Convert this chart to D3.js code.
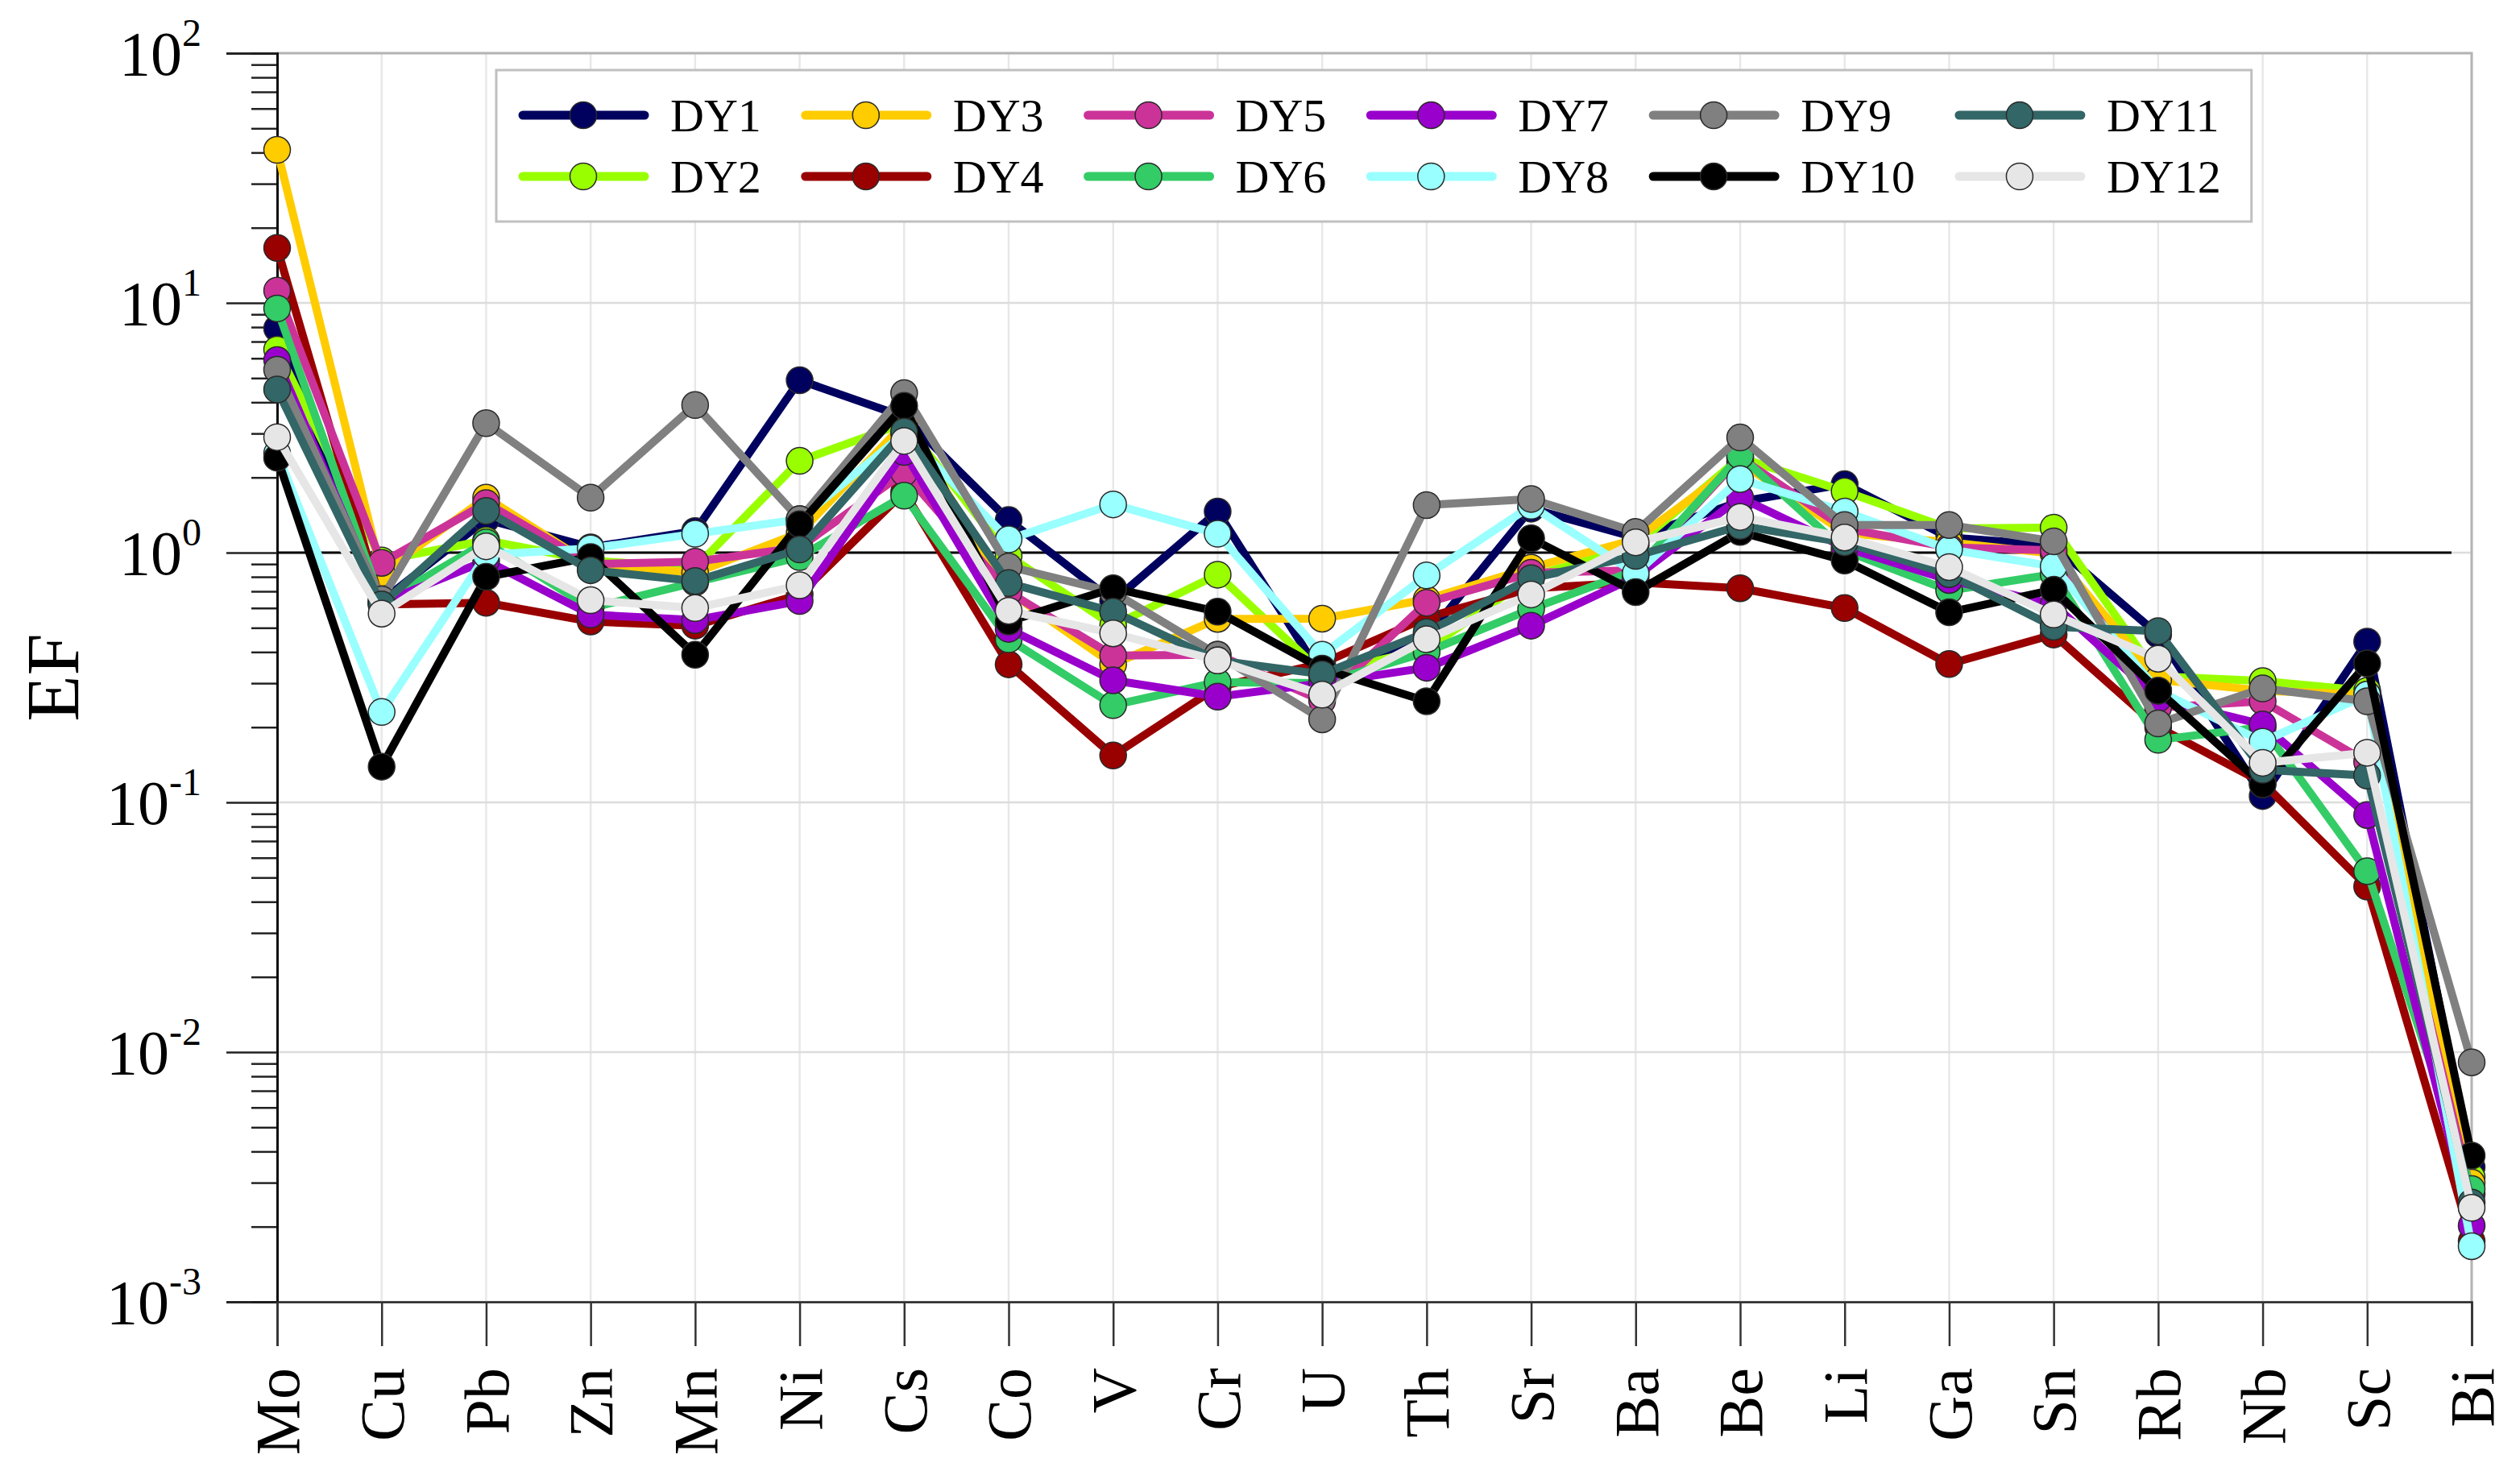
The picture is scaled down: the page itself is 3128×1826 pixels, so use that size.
<!DOCTYPE html>
<html>
<head>
<meta charset="utf-8">
<script src="https://cdn.jsdelivr.net/npm/d3@7"></script>
<style>
  body { margin: 0; background: #fff; }
  text { font-family: "Liberation Serif", "Times New Roman", serif; }
</style>
</head>
<body>
<div id="chart"></div>
<script>
var elements = ['Mo','Cu','Pb','Zn','Mn','Ni','Cs','Co','V','Cr','U','Th','Sr','Ba','Be','Li','Ga','Sn','Rb','Nb','Sc','Bi'];

var dy1  = [7.9, 0.64, 1.36, 1.05, 1.22, 4.9, 3.5, 1.35, 0.64, 1.46, 0.32, 0.46, 1.5, 1.15, 1.6, 1.88, 1.15, 1.07, 0.47, 0.106, 0.44, 0.00346];
var dy2  = [6.5, 0.93, 1.12, 0.93, 0.87, 2.33, 3.3, 0.97, 0.51, 0.816, 0.33, 0.41, 0.8, 1.07, 2.4, 1.76, 1.25, 1.26, 0.32, 0.306, 0.28, 0.00316];
var dy3  = [41, 0.83, 1.66, 0.9, 0.83, 1.2, 3.28, 0.7, 0.357, 0.543, 0.544, 0.65, 0.87, 1.13, 2.3, 1.2, 1.1, 0.99, 0.31, 0.28, 0.27, 0.003];
var dy4  = [16.6, 0.62, 0.63, 0.53, 0.51, 0.68, 1.75, 0.357, 0.154, 0.29, 0.36, 0.55, 0.72, 0.76, 0.72, 0.6, 0.358, 0.47, 0.2, 0.12, 0.046, 0.00175];
var dy5  = [11.2, 0.91, 1.58, 0.9, 0.92, 1.05, 2.09, 0.695, 0.387, 0.39, 0.255, 0.63, 0.83, 0.85, 2.4, 1.25, 1.05, 1.02, 0.24, 0.254, 0.145, 0.0027];
var dy6  = [9.5, 0.63, 1.1, 0.6, 0.76, 0.96, 1.69, 0.45, 0.245, 0.303, 0.3, 0.4, 0.595, 0.85, 2.44, 1.02, 0.705, 0.82, 0.178, 0.2, 0.053, 0.00283];
var dy7  = [5.9, 0.63, 0.93, 0.565, 0.537, 0.64, 2.53, 0.495, 0.308, 0.265, 0.3, 0.346, 0.51, 0.8, 1.66, 1.05, 0.777, 0.62, 0.26, 0.205, 0.089, 0.00202];
var dy8  = [2.5, 0.23, 0.98, 1.04, 1.19, 1.36, 3.0, 1.13, 1.56, 1.19, 0.39, 0.81, 1.54, 0.826, 1.97, 1.46, 1.03, 0.88, 0.28, 0.175, 0.27, 0.00167];
var dy9  = [5.4, 0.65, 3.3, 1.66, 3.9, 1.36, 4.35, 0.88, 0.695, 0.39, 0.215, 1.55, 1.64, 1.21, 2.89, 1.29, 1.29, 1.11, 0.207, 0.286, 0.254, 0.0091];
var dy10 = [2.4, 0.139, 0.8, 0.96, 0.39, 1.3, 3.87, 0.53, 0.72, 0.58, 0.343, 0.254, 1.14, 0.695, 1.21, 0.93, 0.577, 0.71, 0.28, 0.118, 0.36, 0.00385];
var dy11 = [4.5, 0.62, 1.47, 0.85, 0.77, 1.03, 3.05, 0.755, 0.58, 0.37, 0.326, 0.48, 0.79, 0.97, 1.28, 1.1, 0.82, 0.505, 0.485, 0.135, 0.128, 0.0025];
var dy12 = [2.9, 0.57, 1.06, 0.645, 0.6, 0.74, 2.8, 0.585, 0.475, 0.37, 0.27, 0.45, 0.68, 1.1, 1.39, 1.15, 0.875, 0.565, 0.376, 0.144, 0.158, 0.00238];

var seriesNames = ['DY1','DY2','DY3','DY4','DY5','DY6','DY7','DY8','DY9','DY10','DY11','DY12'];
var seriesValues = [dy1, dy2, dy3, dy4, dy5, dy6, dy7, dy8, dy9, dy10, dy11, dy12];
var seriesColors = ['#00005f','#99ff00','#ffcc00','#990000','#cc3399','#33cc66','#9900cc','#99ffff','#808080','#000000','#336666','#e6e6e6'];

var yTicks = [1e-3, 1e-2, 1e-1, 1, 10, 100];
var yExp = ['-3','-2','-1','0','1','2'];

var chart_width = 3128;
var chart_height = 1826;
// plot box (note: "top" is taken by window.top)
var plotL = 344, plotR = 3068, plotT = 66, plotB = 1616;

var svg = d3.select('#chart')
    .append('svg')
    .attr('width', chart_width)
    .attr('height', chart_height);

svg.append('rect')
   .attr('width', chart_width)
   .attr('height', chart_height)
   .attr('fill', '#fff');

var x = d3.scalePoint().domain(elements).range([plotL, plotR]);
var y = d3.scaleLog().domain([1e-3, 1e2]).range([plotB, plotT]);

// grid
svg.append('g')
   .selectAll('line')
   .data(elements)
   .enter()
   .append('line')
   .attr('x1', function(d) { return x(d); })
   .attr('x2', function(d) { return x(d); })
   .attr('y1', plotT)
   .attr('y2', plotB)
   .attr('stroke', '#e8e8e8')
   .attr('stroke-width', 2.5);

svg.append('g')
   .selectAll('line')
   .data(yTicks)
   .enter()
   .append('line')
   .attr('x1', plotL)
   .attr('x2', plotR)
   .attr('y1', function(d) { return y(d); })
   .attr('y2', function(d) { return y(d); })
   .attr('stroke', '#dcdcdc')
   .attr('stroke-width', 2.5);

// frame top / right
svg.append('path')
   .attr('d', 'M' + plotL + ',' + plotT + 'H' + plotR + 'V' + plotB)
   .attr('fill', 'none')
   .attr('stroke', '#b4b4b4')
   .attr('stroke-width', 3);

// reference line at EF = 1
svg.append('line')
   .attr('x1', plotL)
   .attr('x2', plotR - 25)
   .attr('y1', y(1))
   .attr('y2', y(1))
   .attr('stroke', '#000')
   .attr('stroke-width', 3);

// left axis: minor then major ticks
var minorTicks = [];
yTicks.slice(0, -1).forEach(function(t) {
  for (var k = 2; k <= 9; k++) minorTicks.push(t * k);
});

var minorAxis = svg.append('g')
   .attr('transform', 'translate(' + plotL + ',0)')
   .call(d3.axisLeft(y).tickValues(minorTicks).tickSize(32).tickFormat(''));

var majorAxis = svg.append('g')
   .attr('transform', 'translate(' + plotL + ',0)')
   .call(d3.axisLeft(y).tickValues(yTicks).tickSize(63).tickFormat(''));

[minorAxis, majorAxis].forEach(function(g) {
  g.selectAll('line').attr('stroke', '#222').attr('stroke-width', 2.5);
  g.select('.domain').attr('stroke', '#000').attr('stroke-width', 2.5);
});

var yLabels = svg.append('g')
   .selectAll('text')
   .data(yTicks)
   .enter()
   .append('text')
   .attr('x', 250)
   .attr('y', function(d) { return y(d) + 27; })
   .attr('text-anchor', 'end')
   .attr('font-size', 78)
   .attr('fill', '#000');

yLabels.append('tspan').text('10');
yLabels.append('tspan')
   .attr('dy', -36)
   .attr('font-size', 48)
   .text(function(d, i) { return yExp[i]; });

// bottom axis
var xAxis = svg.append('g')
   .attr('transform', 'translate(0,' + plotB + ')')
   .call(d3.axisBottom(x).tickSize(55).tickFormat(''));

xAxis.selectAll('line').attr('stroke', '#333').attr('stroke-width', 2.5);
xAxis.select('.domain').attr('stroke', '#222').attr('stroke-width', 2.5);

svg.append('g')
   .selectAll('text')
   .data(elements)
   .enter()
   .append('text')
   .text(function(d) { return d; })
   .attr('transform', function(d) {
     return 'translate(' + x(d) + ',1698) rotate(-90)';
   })
   .attr('text-anchor', 'end')
   .attr('dy', '0.35em')
   .attr('font-size', 78)
   .attr('fill', '#000');

// y title
svg.append('text')
   .text('EF')
   .attr('transform', 'translate(64,' + ((plotT + plotB) / 2) + ') rotate(-90)')
   .attr('text-anchor', 'middle')
   .attr('dy', '0.35em')
   .attr('font-size', 94)
   .attr('fill', '#000');

// series
var line = d3.line()
   .x(function(d, i) { return x(elements[i]); })
   .y(function(d) { return y(d); });

seriesValues.forEach(function(vals, s) {
  var g = svg.append('g');
  g.append('path')
   .datum(vals)
   .attr('d', line)
   .attr('fill', 'none')
   .attr('stroke', seriesColors[s])
   .attr('stroke-width', 10)
   .attr('stroke-linejoin', 'round');

  g.selectAll('circle')
   .data(vals)
   .enter()
   .append('circle')
   .attr('cx', function(d, i) { return x(elements[i]); })
   .attr('cy', function(d) { return y(d); })
   .attr('r', 16.5)
   .attr('fill', seriesColors[s])
   .attr('stroke', '#2a2a2a')
   .attr('stroke-width', 1.5);
});

// legend: 6 columns x 2 rows
var legend = svg.append('g');
var box = legend.append('rect')
   .attr('x', 616)
   .attr('y', 87)
   .attr('height', 188)
   .attr('fill', '#fff')
   .attr('stroke', '#c0c0c0')
   .attr('stroke-width', 3);

var rowY = [143, 219];
var colX = 649;
for (var c = 0; c < 6; c++) {
  var widest = 0;
  for (var r = 0; r < 2; r++) {
    var s = c * 2 + r;
    var item = legend.append('g')
       .attr('transform', 'translate(' + colX + ',' + rowY[r] + ')');
    item.append('line')
       .attr('x1', 0)
       .attr('x2', 151)
       .attr('stroke', seriesColors[s])
       .attr('stroke-width', 11)
       .attr('stroke-linecap', 'round');
    item.append('circle')
       .attr('cx', 75)
       .attr('r', 16.5)
       .attr('fill', seriesColors[s])
       .attr('stroke', '#2a2a2a')
       .attr('stroke-width', 1.5);
    var t = item.append('text')
       .text(seriesNames[s])
       .attr('x', 183)
       .attr('dy', '0.35em')
       .attr('font-size', 58)
       .attr('fill', '#000');
    widest = Math.max(widest, t.node().getComputedTextLength());
  }
  if (c < 5) colX += 183 + widest + 55;
  else box.attr('width', colX + 183 + widest + 38 - 616);
}
</script>
</body>
</html>
